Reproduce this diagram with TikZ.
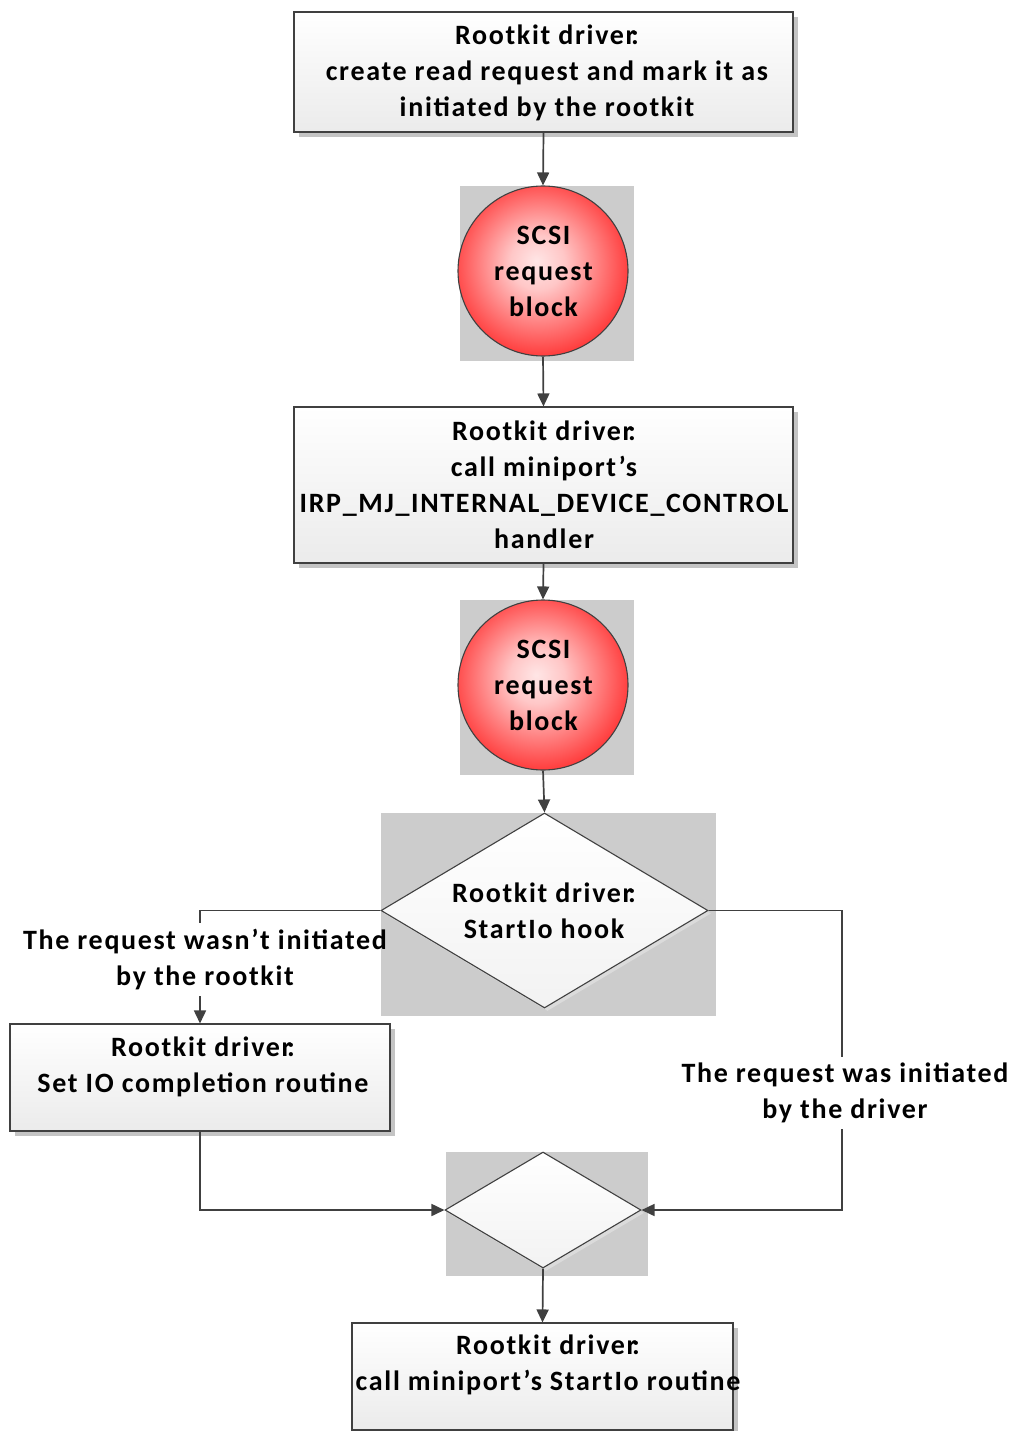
\documentclass[tikz,border=0pt]{standalone}
\usepackage{fontspec}
\setmainfont{Carlito}[LetterSpace=6]
\usetikzlibrary{shapes.geometric,arrows.meta,shadows}

\definecolor{linegray}{HTML}{404040}
\definecolor{backgray}{HTML}{CCCCCC}
\definecolor{shadowgray}{HTML}{C4C4C4}
\definecolor{boxbottom}{HTML}{EBEBEB}

% red ball: light centre fading into pure red at the rim
\pgfdeclareradialshading{redball}{\pgfpoint{-2bp}{3bp}}{%
  color(0bp)=(red!10!white);
  color(8bp)=(red!22!white);
  color(26bp)=(red!75!white);
  color(40bp)=(red);
  color(50bp)=(red)}

\newcommand{\drv}{Rootkit driver\kern-0.16em:}

\tikzset{
  x=1pt, y=-1pt,
  txt/.style={font=\fontsize{28}{36}\selectfont\bfseries, align=center, inner sep=0pt, text=black},
  procbox/.style={draw=linegray, line width=1.1pt, shading=axis, top color=white,
    bottom color=boxbottom, inner sep=0pt,
    drop shadow={shadow xshift=5pt, shadow yshift=-5pt, fill=shadowgray, opacity=1}},
  srb/.style={circle, draw=linegray, line width=1.1pt, shading=redball,
    minimum size=170pt, inner sep=0pt},
  decision/.style={diamond, draw=linegray, line width=1.1pt, shading=axis, top color=white,
    bottom color=black!5, inner sep=0pt,
    drop shadow={shadow xshift=3pt, shadow yshift=-3pt, fill=black!14, opacity=1}},
  backdrop/.style={fill=backgray, draw=none},
  wire/.style={draw=linegray, line width=1.7pt},
  conn/.style={wire, -{Triangle[length=13pt,width=12pt]}},
  lbl/.style={txt, inner xsep=2pt, inner ysep=6pt},
}

\begin{document}
\begin{tikzpicture}
\useasboundingbox (0,0) rectangle (1011,1431);

% grey backdrops behind the round and diamond shapes
\fill[backdrop] (460,186) rectangle (634,361);
\fill[backdrop] (460,600) rectangle (634,775);
\fill[backdrop] (381,813) rectangle (716,1016);
\fill[backdrop] (446,1152) rectangle (648,1276);

% process boxes
\node[procbox, minimum width=499pt, minimum height=120pt] (b1) at (543.5,72) {};
\node[procbox, minimum width=499pt, minimum height=156pt] (b2) at (543.5,485) {};
\node[procbox, minimum width=380pt, minimum height=107pt] (b3) at (200,1077.5) {};
\node[procbox, minimum width=381pt, minimum height=107pt] (b4) at (542.5,1376.5) {};

% SCSI request blocks
\node[srb] (c1) at (543,271) {};
\node[srb] (c2) at (543,685) {};

% decisions
\node[decision, minimum width=327pt, minimum height=195pt] (d1) at (544.5,910.5) {};
\node[decision, minimum width=196pt, minimum height=116pt] (d2) at (543,1210) {};

% texts
\node[txt] (t1) at (547,72.5) {\drv\\ create read request and mark it as\\ initiated by the rootkit};
\node[txt] (t2) at (544,485) {\drv\\ call miniport’s\\ IRP\_MJ\_INTERNAL\_DEVICE\_CONTROL\\ handler};
\node[txt] (tc1) at (543.5,271.5) {SCSI\\ request\\ block};
\node[txt] (tc2) at (543.5,685.5) {SCSI\\ request\\ block};
\node[txt] (td1) at (544,911) {\drv\\ StartIo hook};
\node[txt] (t3) at (203,1067) {\drv\\ Set IO completion routine};
\node[txt] (t4) at (548,1365) {\drv\\ call miniport’s StartIo routine};

% branch labels
\node[lbl] (l1) at (205,959.5) {The request wasn’t initiated\\ by the rootkit};
\node[lbl] (l2) at (845,1093) {The request was initiated\\ by the driver};

% main flow
\draw[conn] (b1.south) -- (c1.north);
\draw[conn] (c1.south) -- (b2.north);
\draw[conn] (b2.south) -- (c2.north);
\draw[conn] (c2.south) -- (d1.north);

% branches, broken by their labels
\coordinate (rc) at (842,1210);
\draw[wire] (d1.west) -| (b3.north |- l1.north);
\draw[conn] (b3.north |- l1.south) -- (b3.north);
\draw[wire] (d1.east) -| (rc |- l2.north);
\draw[conn] (rc |- l2.south) -- (rc) -- (d2.east);
\draw[conn] (b3.south) |- (d2.west);
\draw[conn] (d2.south) -- (b4.north);
\end{tikzpicture}
\end{document}
